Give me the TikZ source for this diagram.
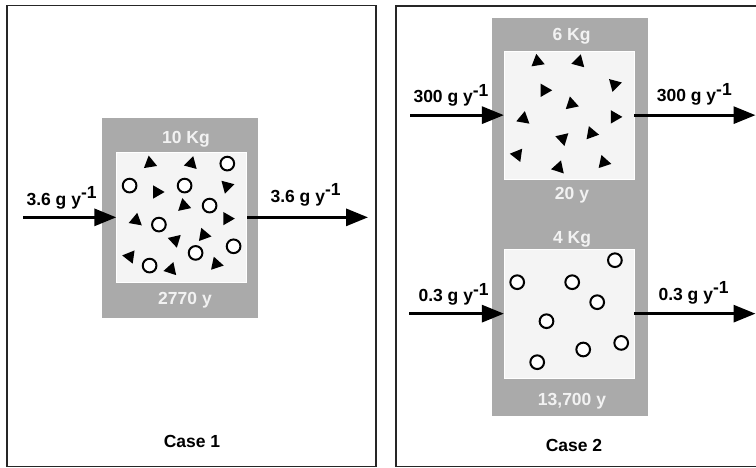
\documentclass[tikz,border=0pt]{standalone}
\usepackage{fontspec}
\setmainfont{Liberation Sans}
\usetikzlibrary{arrows.meta,shapes.geometric}
\definecolor{boxgray}{HTML}{AAAAAA}
\definecolor{innerfill}{HTML}{F4F4F4}
\definecolor{lblcol}{HTML}{F2F2F2}
\newcommand\supm[1]{\raisebox{6.5pt}{#1}}
\begin{document}
\begin{tikzpicture}[x=1pt,y=-1pt,
  every node/.style={font=\fontsize{17.5}{20}\selectfont\bfseries},
  frame/.style={draw=black!85, line width=1.3pt},
  graybox/.style={rectangle, fill=boxgray, inner sep=0pt},
  whitebox/.style={rectangle, fill=innerfill, draw=white, line width=0.8pt, inner sep=0pt},
  ball/.style={circle, draw=black, fill=white, line width=2pt, minimum size=13.7pt, inner sep=0pt},
  tri/.style={regular polygon, regular polygon sides=3, fill=black, minimum size=15.4pt, inner sep=0pt},
  flow/.style={line width=3pt, -{Triangle[length=22pt,width=17pt]}},
  boxlbl/.style={text=lblcol, anchor=base},
  flowlbl/.style={anchor=base west},
  caselbl/.style={anchor=base}]
\useasboundingbox[fill=white] (0,0) rectangle (756,468);

% frames
\draw[frame] (7,5.5) rectangle (376,466.5);
\draw[frame] (396,6) rectangle (758,466.5);

% ---------- Case 1 ----------
\node[graybox, minimum width=156.6pt, minimum height=199.7pt] (g1) at (180,218.15) {};
\node[whitebox, minimum width=130pt, minimum height=129.3pt] (w1) at (181.7,217.35) {};
\node[boxlbl] (m1) at (186,143.3) {10 Kg};
\node[boxlbl] (r1) at (185,304.5) {2770 y};

% ---------- Case 2 ----------
\node[graybox, minimum width=156.6pt, minimum height=398pt] (g2) at (570,217) {};
\node[whitebox, minimum width=129.7pt, minimum height=128.3pt] (wu) at (569.15,115.15) {};
\node[whitebox, minimum width=129.7pt, minimum height=128.7pt] (wl) at (569.15,313.65) {};
\node[boxlbl] (mu) at (571.5,41) {6 Kg};
\node[boxlbl] (ru) at (572,200) {20 y};
\node[boxlbl] (ml) at (572,243.3) {4 Kg};
\node[boxlbl] (rl) at (572,405) {13,700 y};

% triangles
\foreach \bx in {w1,wu}{
  \begin{scope}[shift={(\bx.north west)}]
    \foreach \px/\py/\r [count=\i] in {33.6/10.9/9, 74.9/11.2/-15, 110.6/33.9/45, 40.6/39.7/-90,
        67.6/53.4/12, 110.8/66.3/-90, 19.6/68.1/-10, 58.8/87.9/-47, 87.6/82.8/20,
        13.5/104.2/-38, 54.7/117.1/-18, 99.9/111.7/18}
      \node[tri, rotate=\r] (\bx-t\i) at (\px,\py) {};
  \end{scope}
}
% circles
\foreach \bx in {w1,wl}{
  \begin{scope}[shift={(\bx.north west)}]
    \foreach \px/\py [count=\i] in {111/11.3, 13.3/33.3, 68.3/33.3, 93.3/53.3, 42.6/72.3,
        79.3/100.6, 117.3/94, 33.3/113.3}
      \node[ball] (\bx-c\i) at (\px,\py) {};
  \end{scope}
}

% flow ends
\coordinate (in1) at (23,217.35);
\coordinate (out1) at (368,217.35);
\coordinate (inu) at (410,115.15);
\coordinate (outu) at (755.5,115.15);
\coordinate (inl) at (409,313.65);
\coordinate (outl) at (755.5,313.65);

\draw[flow] (in1) -- (w1.west);
\draw[flow] (w1.east) -- (out1);
\draw[flow] (inu) -- (wu.west);
\draw[flow] (wu.east) -- (outu);
\draw[flow] (inl) -- (wl.west);
\draw[flow] (wl.east) -- (outl);

% flow labels
\node[flowlbl] (l1a) at (23,205.5) {3.6 g y\supm{-1}};
\node[flowlbl] (l1b) at (267,202.5) {3.6 g y\supm{-1}};
\node[flowlbl] (lua) at (410,103) {300 g y\supm{-1}};
\node[flowlbl] (lub) at (653.3,101.7) {300 g y\supm{-1}};
\node[flowlbl] (lla) at (415,301.7) {0.3 g y\supm{-1}};
\node[flowlbl] (llb) at (655,300) {0.3 g y\supm{-1}};

% case labels
\node[caselbl] (c1) at (192,447) {Case 1};
\node[caselbl] (c2) at (574,451) {Case 2};
\end{tikzpicture}
\end{document}
